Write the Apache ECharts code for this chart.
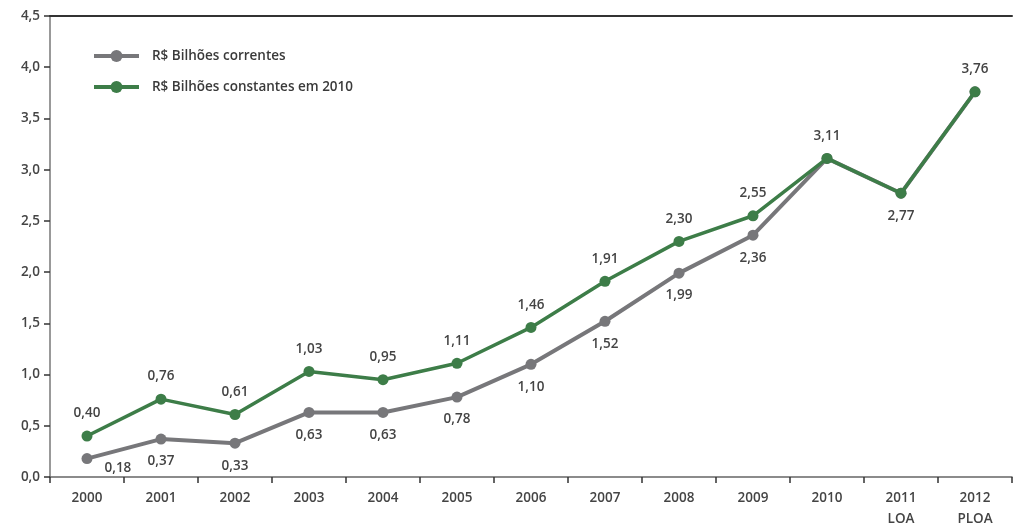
<!DOCTYPE html>
<html><head><meta charset="utf-8">
<script src="https://cdn.jsdelivr.net/npm/echarts@6/dist/echarts.min.js"></script>
<style>html,body{margin:0;padding:0;background:#fff}#c{width:1013px;height:526px}</style>
</head><body><div id="c"></div>
<script>
const categories = ['2000','2001','2002','2003','2004','2005','2006','2007','2008','2009','2010','2011\nLOA','2012\nPLOA'];
const correntes = [0.18,0.37,0.33,0.63,0.63,0.78,1.10,1.52,1.99,2.36,3.11,2.77,3.76];
const constantes = [0.40,0.76,0.61,1.03,0.95,1.11,1.46,1.91,2.30,2.55,3.11,2.77,3.76];
const yTicks = ['0,0','0,5','1,0','1,5','2,0','2,5','3,0','3,5','4,0','4,5'];
const seriesNames = ['R$ Bilhões correntes','R$ Bilhões constantes em 2010'];

const fmt = v => v.toFixed(2).replace('.', ',');
const font = 'Open Sans';
const txt = '#444';
const fs = 13.5;
const GRAY = '#77777a', GREEN = '#3d7d48';

const grayData = correntes.map((v,i)=>{
  const d = {value:v};
  if (i >= 10) d.label = {show:false};
  if (i === 0) d.label = {position:'right', offset:[2,10]};
  return d;
});
const greenData = constantes.map((v,i)=>{
  const d = {value:v};
  if (i === 11) d.label = {position:'bottom', distance:10};
  return d;
});

const chart = echarts.init(document.getElementById('c'));
chart.setOption({
  animation:false,
  textStyle:{fontFamily:font},
  grid:{left:50,right:1,top:16,bottom:49,outerBoundsMode:'none',containLabel:false},
  legend:{
    orient:'vertical', left:87, top:44, itemWidth:45, itemHeight:15, itemGap:17,
    textStyle:{fontFamily:font,fontSize:13.5,fontWeight:600,color:'#3a3a3a',padding:[0,0,0,8]},
    data:[
      {name:seriesNames[0], lineStyle:{width:4,color:GRAY}},
      {name:seriesNames[1], lineStyle:{width:4,color:GREEN}}
    ]
  },
  xAxis:[{
    type:'category', data:categories, boundaryGap:true,
    axisLine:{lineStyle:{color:'#666',width:1.5}},
    axisTick:{show:true,length:6,lineStyle:{color:'#333',width:1.5}},
    axisLabel:{fontFamily:font,fontSize:fs,fontWeight:600,color:txt,margin:11,lineHeight:21}
  },{
    type:'category', data:categories, position:'top',
    axisLine:{show:true,lineStyle:{color:'#333',width:2}},
    axisTick:{show:false}, axisLabel:{show:false}
  }],
  yAxis:{
    type:'value', min:0, max:4.5, interval:0.5,
    axisLine:{show:true,lineStyle:{color:'#777',width:1.5}},
    axisTick:{show:true,length:6,lineStyle:{color:'#333',width:1.5}},
    splitLine:{show:false},
    axisLabel:{fontFamily:font,fontSize:fs,fontWeight:600,color:txt,margin:10,
      formatter:(v)=>yTicks[Math.round(v/0.5)]}
  },
  series:[{
    name:seriesNames[0], type:'line', data:grayData,
    symbol:'circle', symbolSize:11, z:2,
    lineStyle:{color:GRAY,width:4}, itemStyle:{color:GRAY},
    label:{show:true,position:'bottom',distance:10,fontFamily:font,fontSize:fs,fontWeight:600,color:txt,
      formatter:p=>fmt(p.value)}
  },{
    name:seriesNames[1], type:'line', data:greenData,
    symbol:'circle', symbolSize:11, z:3,
    lineStyle:{color:GREEN,width:3.5}, itemStyle:{color:GREEN},
    label:{show:true,position:'top',distance:10,fontFamily:font,fontSize:fs,fontWeight:600,color:txt,
      formatter:p=>fmt(p.value)}
  }]
});
</script></body></html>
